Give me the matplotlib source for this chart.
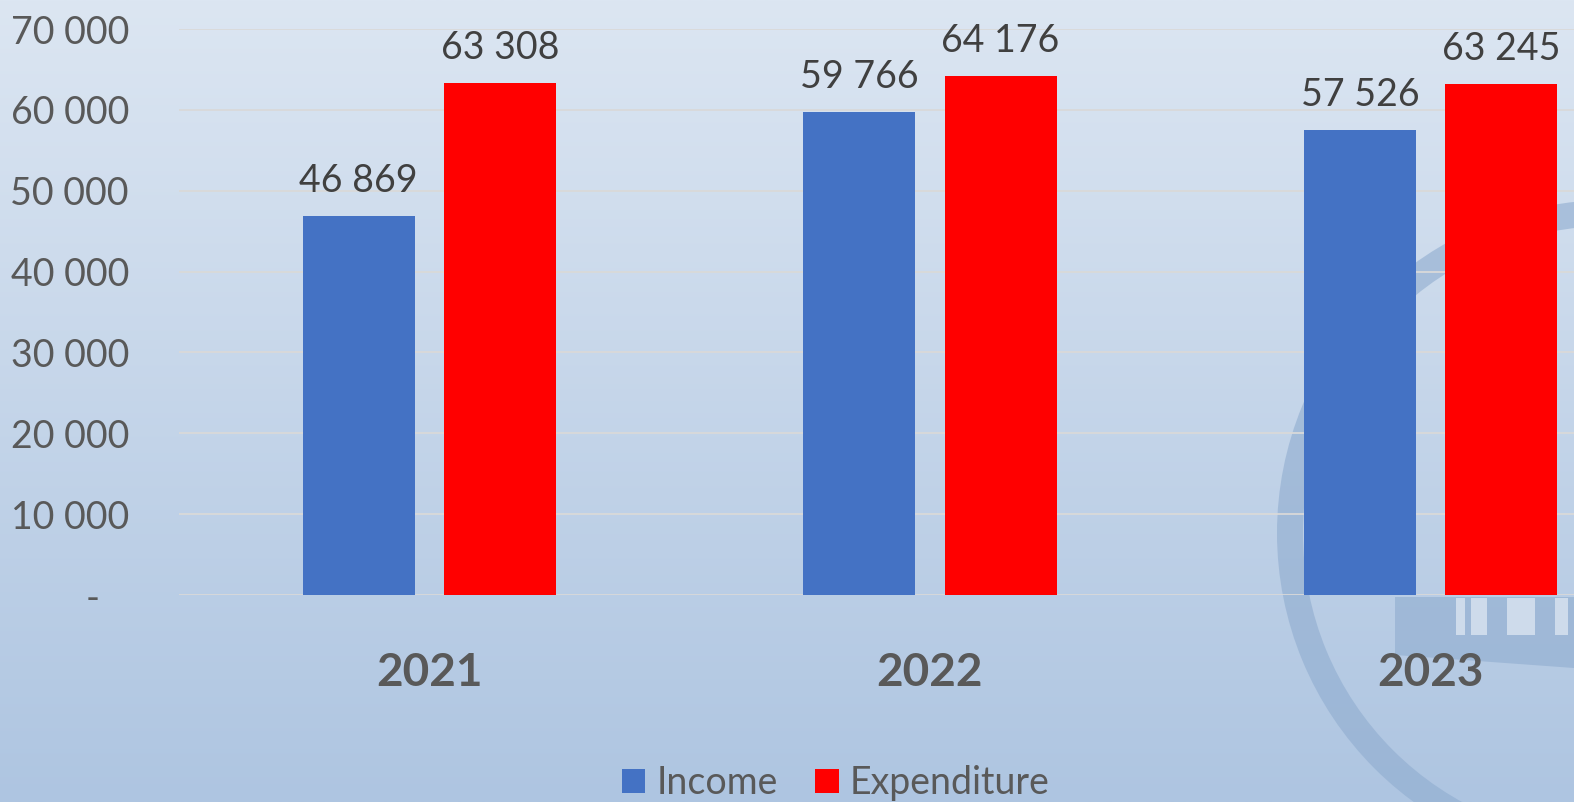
import numpy as np
import matplotlib
matplotlib.use("Agg")
import matplotlib.pyplot as plt
from matplotlib.patches import Wedge, Rectangle, Polygon

# ---- data ----
years = ["2021", "2022", "2023"]
income = [46869, 59766, 57526]
expenditure = [63308, 64176, 63245]
yticks = [0, 10000, 20000, 30000, 40000, 50000, 60000, 70000]
series_names = ["Income", "Expenditure"]
colors = ["#4472C4", "#FF0000"]

plt.rcParams['font.family'] = ['Lato', 'DejaVu Sans']

W, H = 1574, 802
fig = plt.figure(figsize=(W / 100, H / 100), dpi=100)

# ---- background gradient + faint watermark ----
bg = fig.add_axes([0, 0, 1, 1], zorder=0)
top = np.array([0xDC, 0xE6, 0xF2]) / 255
bot = np.array([0xAE, 0xC5, 0xE1]) / 255
t = np.linspace(0, 1, 400)[:, None]
grad = top[None, :] * (1 - t) + bot[None, :] * t
grad = np.repeat(grad[:, None, :], 2, axis=1)
bg.imshow(grad, extent=[0, W, H, 0], aspect='auto', interpolation='bilinear')
bg.set_xlim(0, W)
bg.set_ylim(H, 0)
bg.axis('off')
ring_col = "#8FACCF"
bg.add_patch(Wedge((1610, 533), 333, 0, 360, width=26, facecolor=ring_col,
                   edgecolor='none', alpha=0.6))
bg.add_patch(Polygon([[1395, 597], [1574, 597], [1574, 668], [1395, 655]],
                     closed=True, facecolor=ring_col, edgecolor='none', alpha=0.6))
for x0, w in [(1456, 9), (1471, 16), (1507, 28), (1555, 13)]:
    bg.add_patch(Rectangle((x0, 598), w, 37, facecolor="#CEDBEB", edgecolor='none'))

# ---- main axes ----
left = 179 / W
bottom = 1 - 595 / H
width = (1681 - 179) / W
height = (595 - 29) / H
ax = fig.add_axes([left, bottom, width, height], zorder=1)
ax.patch.set_alpha(0)

x = np.arange(len(years))
bw = 0.224
off = 0.141
b1 = ax.bar(x - off, income, bw, color=colors[0], label=series_names[0], zorder=3)
b2 = ax.bar(x + off, expenditure, bw, color=colors[1], label=series_names[1], zorder=3)

fmt = lambda v: f"{v:,.0f}".replace(",", " ")
for bars in (b1, b2):
    ax.bar_label(bars, labels=[fmt(b.get_height()) for b in bars], padding=12,
                 fontsize=27, color="#404040")

ax.set_xlim(-0.5, 2.5)
ax.set_ylim(0, 70000)
ax.set_yticks(yticks)
ax.set_yticklabels([fmt(v) if v else "-   " for v in yticks])
ax.set_xticks(x)
ax.set_xticklabels(years, fontsize=33, fontweight='bold', color="#595959")
ax.tick_params(axis='y', length=0, pad=36, labelsize=27, labelcolor="#595959")
ax.tick_params(axis='x', length=0, pad=41)
ax.grid(axis='y', color="#D9D9D9", linewidth=1.3, zorder=0)
ax.set_axisbelow(True)
for s in ax.spines.values():
    s.set_visible(False)

leg = fig.legend(handles=[b1, b2], labels=series_names, loc='center',
                 bbox_to_anchor=(836 / W, 1 - 783 / H), ncol=2, frameon=False,
                 fontsize=27, handlelength=0.62, handleheight=0.62,
                 handletextpad=0.3, columnspacing=1.0, labelcolor="#595959")

fig.savefig("out.png", dpi=100)
